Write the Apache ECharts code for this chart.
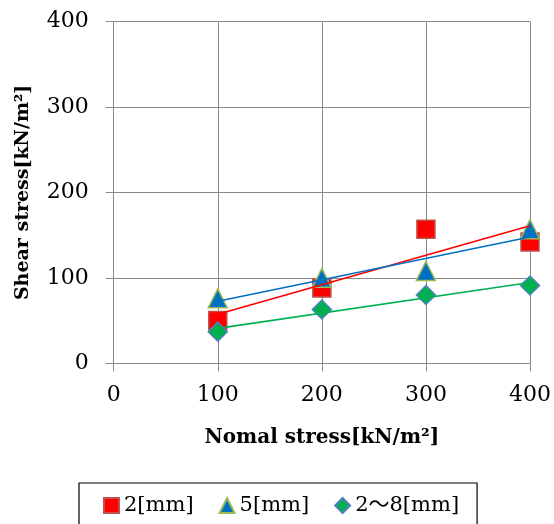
<!DOCTYPE html>
<html>
<head>
<meta charset="utf-8">
<script src="https://cdn.jsdelivr.net/npm/echarts@6/dist/echarts.min.js"></script>
<style>
  html, body { margin: 0; padding: 0; background: #fff; }
  #chart { width: 554px; height: 524px; }
</style>
</head>
<body>
<div id="chart"></div>
<script>
// Normal stress levels (kN/m²)
const normalStress = [100, 200, 300, 400];
// Shear stress at failure (kN/m²) for each particle size
const shear2mm = [50, 88, 157, 142];
const shear5mm = [76, 100, 108, 157];
const shear2to8mm = [37, 63, 80, 91];
const seriesNames = ['2[mm]', '5[mm]', '2～8[mm]'];
const xTicks = [0, 100, 200, 300, 400];
const yTicks = [0, 100, 200, 300, 400];

// Least-squares linear fit, evaluated at the first and last stress level
function fitLine(xs, ys) {
  const n = xs.length;
  const mx = xs.reduce((a, b) => a + b, 0) / n;
  const my = ys.reduce((a, b) => a + b, 0) / n;
  let sxy = 0, sxx = 0;
  for (let i = 0; i < n; i++) {
    sxy += (xs[i] - mx) * (ys[i] - my);
    sxx += (xs[i] - mx) * (xs[i] - mx);
  }
  const k = sxy / sxx, b = my - k * mx;
  const x0 = xs[0], x1 = xs[n - 1];
  return [[x0, k * x0 + b], [x1, k * x1 + b]];
}
const pairs = ys => normalStress.map((x, i) => [x, ys[i]]);

const FONT = '"DejaVu Serif", "Noto Sans CJK JP", serif';
const gridColor = '#8a8a8a';

const chart = echarts.init(document.getElementById('chart'), null, { renderer: 'canvas' });

const scatterStyle = (symbol, fill, border, size) => ({
  type: 'scatter',
  symbol: symbol,
  symbolSize: size,
  itemStyle: { color: fill, borderColor: border, borderWidth: 1.5, opacity: 1 },
  emphasis: { disabled: true }
});
const trend = (ys, color) => ({
  type: 'line',
  data: fitLine(normalStress, ys),
  showSymbol: false,
  symbol: 'none',
  silent: true,
  lineStyle: { color: color, width: 1.6 },
  z: 3
});

chart.setOption({
  animation: false,
  backgroundColor: '#fff',
  textStyle: { fontFamily: FONT },
  grid: { left: 113.7, right: 23.3, top: 21.5, bottom: 160.7, containLabel: false },
  legend: {
    data: seriesNames,
    left: 79,
    top: 483,
    padding: [12, 18, 14, 24],
    itemGap: 25,
    itemWidth: 15,
    itemHeight: 15,
    borderColor: '#000',
    borderWidth: 1.2,
    textStyle: { fontFamily: FONT, fontSize: 21, color: '#000' }
  },
  xAxis: {
    type: 'value',
    min: xTicks[0],
    max: xTicks[xTicks.length - 1],
    interval: 100,
    name: 'Nomal stress[kN/m²]',
    nameLocation: 'middle',
    nameGap: 64,
    nameTextStyle: { fontFamily: FONT, fontWeight: 'bold', fontSize: 20, color: '#000' },
    axisLine: { show: true, lineStyle: { color: gridColor, width: 1 } },
    axisTick: { show: true, length: 8, lineStyle: { color: gridColor } },
    axisLabel: { fontFamily: FONT, fontSize: 22, color: '#000', margin: 21 },
    splitLine: { show: true, lineStyle: { color: gridColor, width: 1 } }
  },
  yAxis: {
    type: 'value',
    min: yTicks[0],
    max: yTicks[yTicks.length - 1],
    interval: 100,
    name: 'Shear stress[kN/m²]',
    nameLocation: 'middle',
    nameGap: 81,
    nameTextStyle: { fontFamily: FONT, fontWeight: 'bold', fontSize: 19, color: '#000' },
    axisLine: { show: true, lineStyle: { color: gridColor, width: 1 } },
    axisTick: { show: true, length: 8, lineStyle: { color: gridColor } },
    axisLabel: { fontFamily: FONT, fontSize: 22, color: '#000', margin: 25 },
    splitLine: { show: true, lineStyle: { color: gridColor, width: 1 } }
  },
  series: [
    Object.assign({ name: seriesNames[0], data: pairs(shear2mm), z: 2 },
      scatterStyle('rect', '#ff0000', '#c0504d', 18)),
    Object.assign({ name: seriesNames[1], data: pairs(shear5mm), z: 2 },
      scatterStyle('triangle', '#0070c0', '#9bbb59', 19)),
    Object.assign({ name: seriesNames[2], data: pairs(shear2to8mm), z: 2 },
      scatterStyle('diamond', '#00b050', '#4f81bd', 19)),
    trend(shear2mm, '#ff0000'),
    trend(shear5mm, '#0070c0'),
    trend(shear2to8mm, '#00b050')
  ]
});
</script>
</body>
</html>
